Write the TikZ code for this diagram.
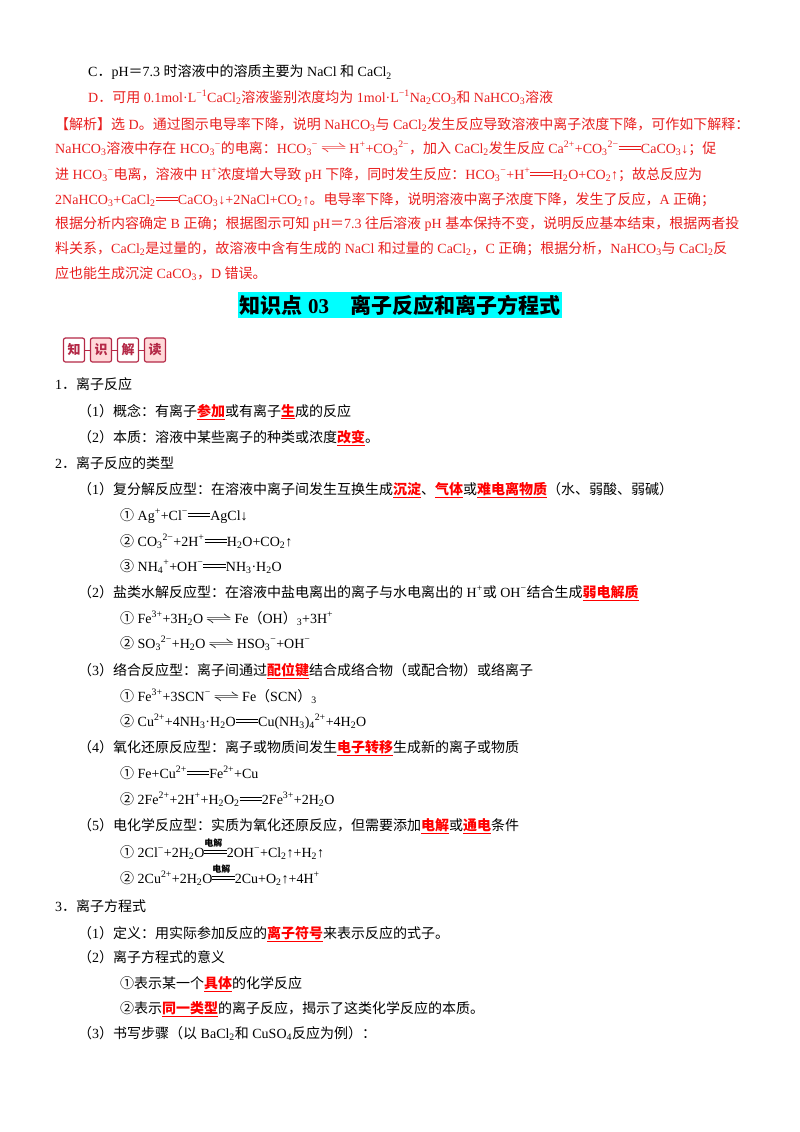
\documentclass[tikz,border=0pt]{standalone}
\usepackage{fontspec}
\setmainfont{Liberation Serif}
\newfontfamily\cjk{Noto Sans CJK SC}
\XeTeXinterchartokenstate=1
\newXeTeXintercharclass\cjkclass
\makeatletter
\def\setcls#1#2{\count@=#1\relax\loop\XeTeXcharclass\count@=\cjkclass\advance\count@ 1\relax\ifnum\count@<#2\repeat}
\setcls{"4E00}{"A000}
\setcls{"3000}{"3040}
\setcls{"FF00}{"FFF0}
\setcls{"2460}{"2474}
\makeatother
\XeTeXinterchartoks 0 \cjkclass = {\cjk}
\XeTeXinterchartoks 4095 \cjkclass = {\cjk}
\XeTeXinterchartoks \cjkclass 0 = {\rmfamily}
\XeTeXinterchartoks \cjkclass 4095 = {\rmfamily}
\newcommand\Sb[1]{\textsubscript{#1}}
\newcommand\Sp[1]{\textsuperscript{#1}}
\newcommand\eqq{\mbox{\rlap{\raisebox{0.22em}{\rule{1.6em}{0.07em}}}\raisebox{0.42em}{\rule{1.6em}{0.07em}}}}
\newcommand\eql{\,\scalebox{1.9}[1]{$\rightleftharpoons$}\,}
\newcommand\elec{\mbox{\rlap{\raisebox{0.75em}{\fontsize{9}{9}\selectfont\bfseries\cjk 电解}}\eqq}}
\definecolor{ared}{RGB}{232,30,30}
\definecolor{kred}{RGB}{255,0,0}
\definecolor{ttl}{RGB}{0,255,255}
\definecolor{bdg}{RGB}{180,40,70}
\newcommand\kw[1]{\textcolor{kred}{\bfseries\underline{#1}}}
\begin{document}
\begin{tikzpicture}[x=1pt,y=-1pt,
 tx/.style={anchor=base west,inner sep=0pt,font=\fontsize{14}{16}\selectfont\rmfamily},
 rt/.style={tx,text=ared},
 bx/.style={draw=bdg,line width=1.2pt,rounded corners=2pt,minimum width=21pt,minimum height=24pt,inner sep=0pt,font=\fontsize{13}{13}\selectfont\bfseries\cjk,text=bdg}]
\useasboundingbox (0,0) rectangle (800,1132);
\node[tx] (c) at (88,77) {C．pH＝7.3 时溶液中的溶质主要为 NaCl 和 CaCl\Sb{2}};
\node[rt] (d) at (88,102) {D．可用 0.1mol·L\Sp{−1}CaCl\Sb{2}溶液鉴别浓度均为 1mol·L\Sp{−1}Na\Sb{2}CO\Sb{3}和 NaHCO\Sb{3}溶液};
\node[rt] (j1) at (55,129) {【解析】选 D。通过图示电导率下降，说明 NaHCO\Sb{3}与 CaCl\Sb{2}发生反应导致溶液中离子浓度下降，可作如下解释：};
\node[rt] (j2) at (55,153) {NaHCO\Sb{3}溶液中存在 HCO\Sb{3}\Sp{−}的电离：HCO\Sb{3}\Sp{−}\eql H\Sp{+}+CO\Sb{3}\Sp{2−}，加入 CaCl\Sb{2}发生反应 Ca\Sp{2+}+CO\Sb{3}\Sp{2−}\eqq CaCO\Sb{3}↓；促};
\node[rt] (j3) at (55,179) {进 HCO\Sb{3}\Sp{−}电离，溶液中 H\Sp{+}浓度增大导致 pH 下降，同时发生反应：HCO\Sb{3}\Sp{−}+H\Sp{+}\eqq H\Sb{2}O+CO\Sb{2}↑；故总反应为};
\node[rt] (j4) at (55,204) {2NaHCO\Sb{3}+CaCl\Sb{2}\eqq CaCO\Sb{3}↓+2NaCl+CO\Sb{2}↑。电导率下降，说明溶液中离子浓度下降，发生了反应，A 正确；};
\node[rt] (j5) at (55,228) {根据分析内容确定 B 正确；根据图示可知 pH＝7.3 往后溶液 pH 基本保持不变，说明反应基本结束，根据两者投};
\node[rt] (j6) at (55,253) {料关系，CaCl\Sb{2}是过量的，故溶液中含有生成的 NaCl 和过量的 CaCl\Sb{2}，C 正确；根据分析，NaHCO\Sb{3}与 CaCl\Sb{2}反};
\node[rt] (j7) at (55,278) {应也能生成沉淀 CaCO\Sb{3}，D 错误。};
\node[fill=ttl,inner xsep=2pt,inner ysep=3pt,font=\fontsize{21}{23}\selectfont\bfseries\rmfamily] (title) at (400,305) {知识点 03\quad 离子反应和离子方程式};
\node[bx,fill=white] (b1) at (74,350) {知};
\node[bx,fill=pink!60] (b2) at (101,350) {识};
\node[bx,fill=white] (b3) at (128,350) {解};
\node[bx,fill=pink!60] (b4) at (155,350) {读};
\draw[bdg,line width=1pt] (b1)--(b2) (b2)--(b3) (b3)--(b4);
\node[tx] (s1) at (55,389) {1．离子反应};
\node[tx] (s11) at (78,416) {（1）概念：有离子\kw{参加}或有离子\kw{生}成的反应};
\node[tx] (s12) at (78,442) {（2）本质：溶液中某些离子的种类或浓度\kw{改变}。};
\node[tx] (s2) at (55,468) {2．离子反应的类型};
\node[tx] (s21) at (78,494) {（1）复分解反应型：在溶液中离子间发生互换生成\kw{沉淀}、\kw{气体}或\kw{难电离物质}（水、弱酸、弱碱）};
\node[tx] (e1) at (120,520) {① Ag\Sp{+}+Cl\Sp{−}\eqq AgCl↓};
\node[tx] (e2) at (120,546) {② CO\Sb{3}\Sp{2−}+2H\Sp{+}\eqq H\Sb{2}O+CO\Sb{2}↑};
\node[tx] (e3) at (120,571) {③ NH\Sb{4}\Sp{+}+OH\Sp{−}\eqq NH\Sb{3}·H\Sb{2}O};
\node[tx] (s22) at (78,597) {（2）盐类水解反应型：在溶液中盐电离出的离子与水电离出的 H\Sp{+}或 OH\Sp{−}结合生成\kw{弱电解质}};
\node[tx] (e4) at (120,623) {① Fe\Sp{3+}+3H\Sb{2}O\eql Fe（OH）\Sb{3}+3H\Sp{+}};
\node[tx] (e5) at (120,648) {② SO\Sb{3}\Sp{2−}+H\Sb{2}O\eql HSO\Sb{3}\Sp{−}+OH\Sp{−}};
\node[tx] (s23) at (78,675) {（3）络合反应型：离子间通过\kw{配位键}结合成络合物（或配合物）或络离子};
\node[tx] (e6) at (120,701) {① Fe\Sp{3+}+3SCN\Sp{−}\eql Fe（SCN）\Sb{3}};
\node[tx] (e7) at (120,726) {② Cu\Sp{2+}+4NH\Sb{3}·H\Sb{2}O\eqq Cu(NH\Sb{3})\Sb{4}\Sp{2+}+4H\Sb{2}O};
\node[tx] (s24) at (78,752) {（4）氧化还原反应型：离子或物质间发生\kw{电子转移}生成新的离子或物质};
\node[tx] (e8) at (120,778) {① Fe+Cu\Sp{2+}\eqq Fe\Sp{2+}+Cu};
\node[tx] (e9) at (120,804) {② 2Fe\Sp{2+}+2H\Sp{+}+H\Sb{2}O\Sb{2}\eqq 2Fe\Sp{3+}+2H\Sb{2}O};
\node[tx] (s25) at (78,830) {（5）电化学反应型：实质为氧化还原反应，但需要添加\kw{电解}或\kw{通电}条件};
\node[tx] (e10) at (120,857) {① 2Cl\Sp{−}+2H\Sb{2}O\elec 2OH\Sp{−}+Cl\Sb{2}↑+H\Sb{2}↑};
\node[tx] (e11) at (120,883) {② 2Cu\Sp{2+}+2H\Sb{2}O\elec 2Cu+O\Sb{2}↑+4H\Sp{+}};
\node[tx] (s3) at (55,911) {3．离子方程式};
\node[tx] (s31) at (78,938) {（1）定义：用实际参加反应的\kw{离子符号}来表示反应的式子。};
\node[tx] (s32) at (78,962) {（2）离子方程式的意义};
\node[tx] (m1) at (120,988) {①表示某一个\kw{具体}的化学反应};
\node[tx] (m2) at (120,1013) {②表示\kw{同一类型}的离子反应，揭示了这类化学反应的本质。};
\node[tx] (s33) at (78,1038) {（3）书写步骤（以 BaCl\Sb{2}和 CuSO\Sb{4}反应为例）：};
\end{tikzpicture}
\end{document}
